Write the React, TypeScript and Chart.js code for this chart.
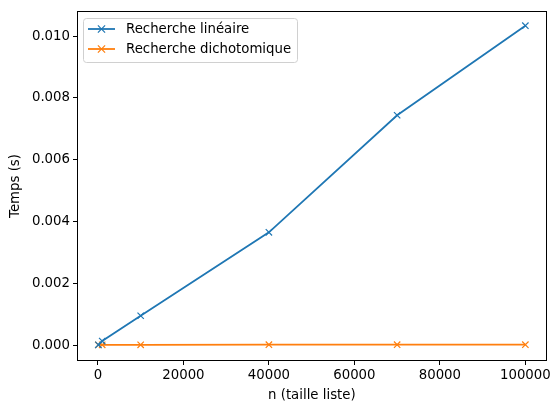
import React, { useEffect, useRef } from "react";
import { Chart, registerables } from "chart.js";

Chart.register(...registerables);

const sizes = [100, 1000, 10000, 40000, 70000, 100000];
const lineaire = [0.00001, 0.00013, 0.00095, 0.00365, 0.00744, 0.01034];
const dichotomique = [0.000006, 0.000008, 0.00001, 0.000012, 0.000013, 0.000014];
const seriesLabels = ["Recherche linéaire", "Recherche dichotomique"];
const seriesColors = ["#1f77b4", "#ff7f0e"];
const xTicks = [0, 20000, 40000, 60000, 80000, 100000];
const yTicks = [0, 0.002, 0.004, 0.006, 0.008, 0.01];
const xTitle = "n (taille liste)";
const yTitle = "Temps (s)";

const FONT = "DejaVu Sans";
const FS = 13.3;

const framePlugin = {
  id: "frameLegend",
  afterDraw(chart: any) {
    const { ctx, chartArea } = chart;
    ctx.save();
    ctx.strokeStyle = "#000";
    ctx.lineWidth = 1;
    ctx.strokeRect(
      Math.round(chartArea.left) + 0.5,
      Math.round(chartArea.top) + 0.5,
      Math.round(chartArea.right - chartArea.left) - 1,
      Math.round(chartArea.bottom - chartArea.top) - 1
    );
    // legend
    const bx = Math.round(chartArea.left) + 6.5;
    const by = Math.round(chartArea.top) + 7.5;
    const bw = 214;
    const bh = 44;
    ctx.beginPath();
    const r = 3;
    ctx.moveTo(bx + r, by);
    ctx.lineTo(bx + bw - r, by);
    ctx.quadraticCurveTo(bx + bw, by, bx + bw, by + r);
    ctx.lineTo(bx + bw, by + bh - r);
    ctx.quadraticCurveTo(bx + bw, by + bh, bx + bw - r, by + bh);
    ctx.lineTo(bx + r, by + bh);
    ctx.quadraticCurveTo(bx, by + bh, bx, by + bh - r);
    ctx.lineTo(bx, by + r);
    ctx.quadraticCurveTo(bx, by, bx + r, by);
    ctx.closePath();
    ctx.fillStyle = "rgba(255,255,255,0.8)";
    ctx.fill();
    ctx.strokeStyle = "#d0d0d0";
    ctx.stroke();
    chart.data.datasets.forEach((ds: any, i: number) => {
      const y = by + 10.5 + i * 20;
      const x0 = bx + 4.5;
      const x1 = bx + 31.5;
      ctx.strokeStyle = ds.borderColor;
      ctx.lineWidth = 1.8;
      ctx.beginPath();
      ctx.moveTo(x0, y);
      ctx.lineTo(x1, y);
      ctx.stroke();
      const cx = (x0 + x1) / 2;
      const m = 3.6;
      ctx.lineWidth = 1.2;
      ctx.beginPath();
      ctx.moveTo(cx - m, y - m);
      ctx.lineTo(cx + m, y + m);
      ctx.moveTo(cx - m, y + m);
      ctx.lineTo(cx + m, y - m);
      ctx.stroke();
      ctx.fillStyle = "#000";
      ctx.font = `${FS}px "${FONT}"`;
      ctx.textBaseline = "middle";
      ctx.textAlign = "left";
      ctx.fillText(ds.label, bx + 42.5, y + 0.5);
    });
    ctx.restore();
  },
};

export default function App() {
  const ref = useRef<HTMLCanvasElement>(null);
  useEffect(() => {
    document.body.style.margin = "0";
    const makeData = (arr: number[]) => sizes.map((x, i) => ({ x, y: arr[i] }));
    const chart = new Chart(ref.current!, {
      type: "scatter",
      data: {
        datasets: [lineaire, dichotomique].map((arr, i) => ({
          label: seriesLabels[i],
          data: makeData(arr),
          showLine: true,
          borderColor: seriesColors[i],
          backgroundColor: seriesColors[i],
          borderWidth: 1.8,
          pointStyle: "crossRot",
          pointRadius: 4.5,
          pointBorderWidth: 1.2,
          pointHoverRadius: 4.5,
          tension: 0,
        })),
      },
      options: {
        responsive: false,
        animation: false,
        events: [],
        layout: { padding: { left: 0, top: 7, right: 1, bottom: 0 } },
        plugins: {
          legend: { display: false },
          tooltip: { enabled: false },
        },
        scales: {
          x: {
            type: "linear",
            min: -4895,
            max: 104995,
            afterFit: (s: any) => {
              s.height = 46;
            },
            afterBuildTicks: (s: any) => {
              s.ticks = xTicks.map((v) => ({ value: v }));
            },
            ticks: {
              color: "#000",
              font: { family: FONT, size: FS },
              padding: 3,
              maxRotation: 0,
              autoSkip: false,
              callback: (v: any) => String(v),
            },
            grid: {
              drawOnChartArea: false,
              drawTicks: true,
              tickLength: 4,
              color: "#000",
            },
            border: { display: false },
            title: {
              display: true,
              text: xTitle,
              color: "#000",
              font: { family: FONT, size: FS },
              padding: { top: 0, bottom: 3 },
            },
          },
          y: {
            type: "linear",
            min: -0.000515,
            max: 0.010815,
            afterFit: (s: any) => {
              s.width = 77;
            },
            afterBuildTicks: (s: any) => {
              s.ticks = yTicks.map((v) => ({ value: v }));
            },
            ticks: {
              color: "#000",
              font: { family: FONT, size: FS },
              padding: 3,
              autoSkip: false,
              callback: (v: any) => Number(v).toFixed(3),
            },
            grid: {
              drawOnChartArea: false,
              drawTicks: true,
              tickLength: 4,
              color: "#000",
            },
            border: { display: false },
            title: {
              display: true,
              text: yTitle,
              color: "#000",
              font: { family: FONT, size: FS },
              padding: { top: 8, bottom: 0 },
            },
          },
        },
      },
      plugins: [framePlugin],
    });
    return () => chart.destroy();
  }, []);
  return <canvas ref={ref} width={554} height={407} style={{ display: "block" }} />;
}
